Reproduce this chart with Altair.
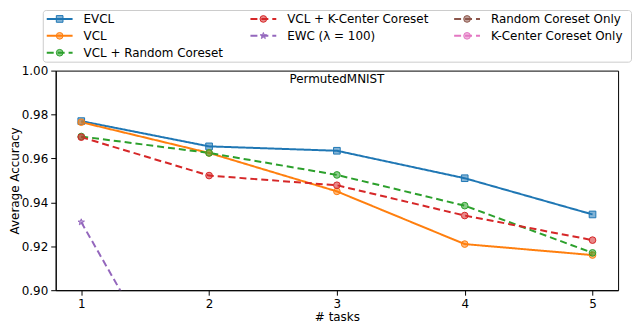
import altair as alt
import pandas as pd

# ---- data ----
tasks = [1, 2, 3, 4, 5]
evcl = [0.977, 0.9655, 0.9635, 0.951, 0.9345]
vcl = [0.9765, 0.9625, 0.945, 0.921, 0.916]
vcl_random = [0.970, 0.9625, 0.9525, 0.9385, 0.917]
vcl_kcenter = [0.9697, 0.9522, 0.9478, 0.934, 0.9228]
ewc_tasks = [1, 2]
ewc = [0.931, 0.829]

names = ["EVCL", "VCL", "VCL + Random Coreset", "VCL + K-Center Coreset",
         "EWC (λ = 100)", "Random Coreset Only", "K-Center Coreset Only"]
colors = ["#1f77b4", "#ff7f0e", "#2ca02c", "#d62728", "#9467bd", "#8c564b", "#e377c2"]
dashes = [[1, 0], [1, 0], [7, 4], [7, 4], [7, 4], [7, 4], [7, 4]]
STAR = ("M0,-1L0.235,-0.324L0.951,-0.309L0.38,0.124L0.588,0.809L0,0.4"
        "L-0.588,0.809L-0.38,0.124L-0.951,-0.309L-0.235,-0.324Z")
shapes = ["square", "circle", "circle", "circle", STAR, "circle", "circle"]

# legend grid placement (column, row) as in the reference
leg_col = [0, 0, 0, 1, 1, 2, 2]
leg_row = [0, 1, 2, 0, 1, 0, 1]

rows = []
for name, vals in zip(names[:4], [evcl, vcl, vcl_random, vcl_kcenter]):
    for t, v in zip(tasks, vals):
        rows.append({"series": name, "task": t, "acc": v})
for t, v in zip(ewc_tasks, ewc):
    rows.append({"series": names[4], "task": t, "acc": v})
df = pd.DataFrame(rows)
leg_df = pd.DataFrame({"series": names, "col": leg_col, "row": leg_row})

color_scale = alt.Scale(domain=names, range=colors)
dash_scale = alt.Scale(domain=names, range=dashes)
shape_scale = alt.Scale(domain=names, range=shapes)

# ---- main plot ----
x = alt.X("task:Q", scale=alt.Scale(domain=[0.8, 5.2], nice=False),
          axis=alt.Axis(values=tasks, format="d", title="# tasks",
                        labelPadding=3, titlePadding=2))
y = alt.Y("acc:Q", scale=alt.Scale(domain=[0.9, 1.0], nice=False),
          axis=alt.Axis(values=[0.90, 0.92, 0.94, 0.96, 0.98, 1.00], format=".2f",
                        title="Average Accuracy", labelPadding=3, titleX=-34))

base = alt.Chart(df).encode(x=x, y=y)
lines = base.mark_line(strokeWidth=2, clip=True).encode(
    color=alt.Color("series:N", scale=color_scale, legend=None),
    strokeDash=alt.StrokeDash("series:N", scale=dash_scale, legend=None),
)
points = base.mark_point(filled=True, size=45, strokeWidth=1, fillOpacity=0.55, clip=True).encode(
    color=alt.Color("series:N", scale=color_scale, legend=None),
    stroke=alt.Stroke("series:N", scale=color_scale, legend=None),
    shape=alt.Shape("series:N", scale=shape_scale, legend=None),
)
main = alt.layer(lines, points).properties(
    width=566, height=221,
    title=alt.TitleParams("PermutedMNIST", offset=-21, fontSize=12, fontWeight="normal",
                          font="DejaVu Sans", color="black", anchor="middle", frame="group"),
    view=alt.ViewBackground(stroke="black", strokeWidth=1),
)

# ---- legend panel ----
lbase = alt.Chart(leg_df).encode(
    x=alt.X("col:Q", scale=alt.Scale(domain=[-0.0195, 2.8683], nice=False), axis=None),
    y=alt.Y("row:Q", scale=alt.Scale(domain=[-0.529, 2.529], nice=False, reverse=True), axis=None),
)
lrule = lbase.mark_rule(strokeWidth=2, x2Offset=26).encode(
    x2="col:Q",
    color=alt.Color("series:N", scale=color_scale, legend=None),
    strokeDash=alt.StrokeDash("series:N", scale=dash_scale, legend=None),
)
lpts = lbase.mark_point(filled=True, size=45, strokeWidth=1, fillOpacity=0.55, xOffset=13).encode(
    color=alt.Color("series:N", scale=color_scale, legend=None),
    stroke=alt.Stroke("series:N", scale=color_scale, legend=None),
    shape=alt.Shape("series:N", scale=shape_scale, legend=None),
)
ltext = lbase.mark_text(align="left", baseline="middle", dx=37, fontSize=12,
                        font="DejaVu Sans", color="black").encode(text="series:N")
legend = alt.layer(lrule, lpts, ltext).properties(
    width=592, height=52,
    view=alt.ViewBackground(stroke="#cccccc", strokeWidth=1, cornerRadius=3),
)

chart = alt.vconcat(legend, main, spacing=9, center=True, bounds="flush").properties(
    padding=0
).configure(font="DejaVu Sans").configure_axis(
    labelFont="DejaVu Sans", labelFontSize=12, labelColor="black",
    titleFont="DejaVu Sans", titleFontSize=12, titleFontWeight="normal", titleColor="black",
    domainColor="black", tickColor="black", tickSize=5, grid=False,
)

chart.save("out.html", embed_options={"renderer": "svg", "actions": False})
